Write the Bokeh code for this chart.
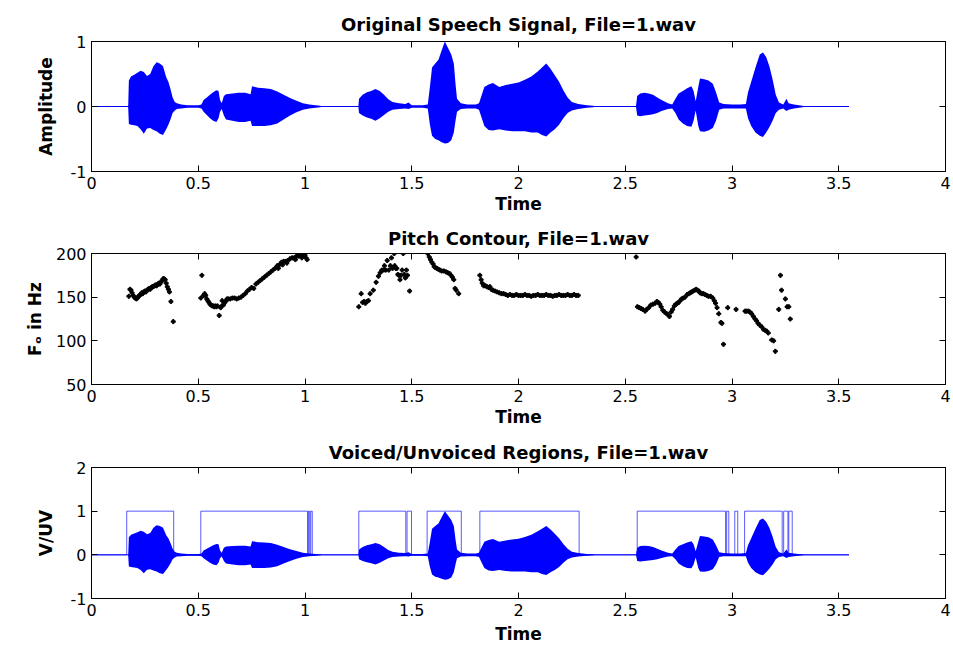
from bokeh.plotting import figure
from bokeh.layouts import column
from bokeh.models import Range1d, FixedTicker, LinearAxis, CustomLabelingPolicy
from bokeh.embed import file_html
from bokeh.resources import INLINE

FONT = "DejaVu Sans"
BLUE = "#0000ff"

# ---- speech waveform: amplitude envelope (time in s, upper / lower peak) ----
env_t = [0.0, 0.17, 0.172, 0.175, 0.185, 0.20, 0.215, 0.23, 0.245, 0.26, 0.275, 0.29, 0.305,
         0.32, 0.335, 0.35, 0.36, 0.37, 0.38, 0.39, 0.40, 0.42, 0.45, 0.50, 0.515,
         0.525, 0.54, 0.555, 0.57, 0.585, 0.595, 0.602, 0.61, 0.62, 0.63, 0.66, 0.69, 0.72,
         0.745, 0.752, 0.78, 0.81, 0.84, 0.87, 0.90, 0.93, 0.96, 0.99, 1.02, 1.05, 1.072,
         1.08, 1.25,
         1.253, 1.27, 1.29, 1.31, 1.33, 1.35, 1.37, 1.39, 1.41, 1.44, 1.47, 1.485, 1.50,
         1.55, 1.575,
         1.585, 1.595, 1.61, 1.625, 1.64, 1.655, 1.67, 1.685, 1.697, 1.705, 1.712, 1.73,
         1.76, 1.80, 1.815,
         1.825, 1.84, 1.86, 1.88, 1.91, 1.94, 1.97, 2.00, 2.03, 2.06, 2.09, 2.11, 2.13,
         2.15, 2.17, 2.19, 2.21, 2.23, 2.25, 2.28, 2.32, 2.35, 2.36, 2.55,
         2.556, 2.57, 2.59, 2.61, 2.63, 2.65, 2.67, 2.70, 2.72,
         2.735, 2.75, 2.77, 2.79, 2.81, 2.82, 2.83,
         2.842, 2.85, 2.87, 2.89, 2.91, 2.925, 2.94, 2.96, 3.00, 3.04, 3.065,
         3.075, 3.09, 3.11, 3.13, 3.145, 3.16, 3.175, 3.19, 3.205, 3.22, 3.24, 3.255,
         3.265, 3.29, 3.33, 3.34, 3.548]
env_up = [0.0, 0.0, 0.02, 0.40, 0.46, 0.49, 0.52, 0.55, 0.53, 0.47, 0.50, 0.62, 0.68,
          0.66, 0.62, 0.45, 0.38, 0.27, 0.14, 0.07, 0.05, 0.03, 0.02, 0.02, 0.03,
          0.10, 0.14, 0.18, 0.22, 0.25, 0.24, 0.10, 0.05, 0.16, 0.19, 0.20, 0.21, 0.21,
          0.19, 0.31, 0.29, 0.28, 0.27, 0.23, 0.18, 0.13, 0.09, 0.05, 0.03, 0.02, 0.01,
          0.0, 0.0,
          0.12, 0.18, 0.22, 0.24, 0.27, 0.24, 0.18, 0.11, 0.07, 0.05, 0.04, 0.06, 0.02,
          0.02, 0.03,
          0.30, 0.60, 0.66, 0.72, 0.86, 1.00, 0.90, 0.80, 0.66, 0.35, 0.12, 0.05,
          0.03, 0.03, 0.05,
          0.15, 0.30, 0.34, 0.36, 0.30, 0.33, 0.35, 0.37, 0.41, 0.46, 0.54, 0.60, 0.66,
          0.58, 0.48, 0.38, 0.25, 0.14, 0.07, 0.04, 0.02, 0.01, 0.0, 0.0,
          0.16, 0.20, 0.21, 0.20, 0.18, 0.14, 0.10, 0.05, 0.03,
          0.12, 0.20, 0.24, 0.28, 0.31, 0.24, 0.08,
          0.30, 0.43, 0.42, 0.40, 0.35, 0.22, 0.06, 0.04, 0.03, 0.03, 0.04,
          0.22, 0.38, 0.60, 0.80, 0.83, 0.76, 0.62, 0.42, 0.18, 0.06, 0.03, 0.12,
          0.05, 0.03, 0.01, 0.0, 0.0]
env_lo = [0.0, 0.0, -0.02, -0.27, -0.28, -0.29, -0.30, -0.35, -0.42, -0.34, -0.33, -0.36, -0.38,
          -0.42, -0.44, -0.35, -0.28, -0.20, -0.10, -0.06, -0.04, -0.03, -0.02, -0.02, -0.03,
          -0.08, -0.13, -0.18, -0.22, -0.24, -0.18, -0.08, -0.04, -0.14, -0.20, -0.22, -0.24, -0.24,
          -0.22, -0.30, -0.30, -0.30, -0.29, -0.26, -0.20, -0.14, -0.09, -0.05, -0.03, -0.02, -0.01,
          0.0, 0.0,
          -0.10, -0.14, -0.17, -0.19, -0.22, -0.18, -0.13, -0.08, -0.05, -0.04, -0.03, -0.04, -0.02,
          -0.02, -0.03,
          -0.28, -0.45, -0.50, -0.52, -0.55, -0.57, -0.56, -0.52, -0.40, -0.22, -0.08, -0.04,
          -0.03, -0.03, -0.05,
          -0.15, -0.30, -0.36, -0.37, -0.35, -0.37, -0.38, -0.38, -0.38, -0.40, -0.40, -0.44, -0.46,
          -0.40, -0.35, -0.28, -0.18, -0.10, -0.06, -0.04, -0.02, -0.01, 0.0, 0.0,
          -0.14, -0.15, -0.14, -0.13, -0.12, -0.10, -0.07, -0.04, -0.03,
          -0.10, -0.20, -0.26, -0.30, -0.31, -0.22, -0.06,
          -0.30, -0.38, -0.39, -0.37, -0.33, -0.22, -0.05, -0.03, -0.03, -0.03, -0.03,
          -0.18, -0.30, -0.40, -0.45, -0.47, -0.40, -0.32, -0.22, -0.10, -0.05, -0.03, -0.07,
          -0.05, -0.03, -0.01, 0.0, 0.0]

# ---- pitch contour estimates (time in s, F0 in Hz) ----
pitch_t = [0.175, 0.180, 0.185, 0.190, 0.195, 0.200, 0.205, 0.210, 0.215, 0.220, 0.225, 0.230,
           0.235, 0.240, 0.245, 0.250, 0.255, 0.260, 0.265, 0.270, 0.275, 0.280, 0.285, 0.290,
           0.295, 0.300, 0.305, 0.310, 0.315, 0.320, 0.325, 0.330, 0.335, 0.340, 0.345, 0.350,
           0.355, 0.360, 0.365, 0.372, 0.383,
           0.512, 0.517, 0.525, 0.530, 0.535, 0.540, 0.545, 0.550, 0.555, 0.560, 0.565, 0.570,
           0.575, 0.580, 0.585, 0.590, 0.598, 0.605, 0.610, 0.612, 0.618, 0.625, 0.630, 0.635,
           0.640, 0.650, 0.660, 0.670, 0.680, 0.690, 0.700, 0.710, 0.720, 0.730, 0.740, 0.750,
           0.760, 0.770, 0.780, 0.790, 0.800, 0.810, 0.820, 0.830, 0.840, 0.850, 0.860, 0.870,
           0.875, 0.880, 0.890, 0.895, 0.900, 0.910, 0.915, 0.920, 0.930, 0.940, 0.950, 0.955,
           0.960, 0.970, 0.980, 0.985, 0.990, 0.995, 1.000, 1.005, 1.010,
           1.252, 1.263, 1.270, 1.277, 1.283, 1.290, 1.297, 1.305, 1.320, 1.333, 1.344, 1.352,
           1.360, 1.368, 1.372, 1.378, 1.385, 1.392, 1.400, 1.405, 1.410, 1.418, 1.420, 1.425,
           1.430, 1.435, 1.440, 1.445, 1.450, 1.455, 1.460, 1.465, 1.470, 1.475, 1.480, 1.490,
           1.575, 1.582, 1.588, 1.594, 1.600, 1.605, 1.610, 1.617, 1.625, 1.632, 1.640, 1.650,
           1.660, 1.668, 1.677, 1.684, 1.690, 1.697, 1.703, 1.708, 1.720,
           1.819, 1.825, 1.830, 1.837, 1.845, 1.852, 1.860, 1.866, 1.873, 1.880, 1.890, 1.900,
           1.910, 1.920, 1.930, 1.940, 1.950, 1.960, 1.970, 1.980, 1.990, 2.000, 2.010, 2.020,
           2.030, 2.040, 2.050, 2.060, 2.070, 2.080, 2.090, 2.100, 2.110, 2.120, 2.130, 2.140,
           2.150, 2.160, 2.170, 2.180, 2.190, 2.200, 2.210, 2.220, 2.230, 2.240, 2.250, 2.260,
           2.270, 2.280,
           2.551, 2.557, 2.566, 2.574, 2.582, 2.593, 2.600, 2.610, 2.620, 2.630, 2.640, 2.648,
           2.655, 2.662, 2.668, 2.676, 2.684, 2.694, 2.700, 2.707, 2.715, 2.722, 2.730, 2.737,
           2.744, 2.750, 2.757, 2.764, 2.772, 2.780, 2.790, 2.798, 2.805, 2.811, 2.818, 2.825,
           2.832, 2.838, 2.845, 2.850, 2.858, 2.866, 2.874, 2.882, 2.890, 2.900, 2.910, 2.917,
           2.923, 2.930, 2.938, 2.948, 2.953, 2.960, 2.980, 3.019, 3.061, 3.068, 3.077, 3.084,
           3.092, 3.100, 3.108, 3.115, 3.122, 3.130, 3.139, 3.148, 3.156, 3.163, 3.170, 3.186,
           3.195, 3.203, 3.219, 3.227, 3.232, 3.250, 3.258, 3.266, 3.273]
pitch_f = [151, 159, 158, 155, 152, 150, 149, 148, 149, 151, 152, 153,
           155, 154, 156, 157, 156, 158, 159, 160, 159, 161, 162, 162,
           163, 164, 163, 165, 166, 165, 167, 169, 171, 171, 170, 166,
           162, 159, 156, 145, 122,
           149, 175, 152, 154, 152, 148, 146, 144, 142, 141, 140, 140,
           139, 140, 139, 140, 129, 138, 140, 146, 141, 144, 146, 148,
           148, 148, 149, 149, 148, 149, 150, 152, 154, 157, 159, 161,
           160, 165, 167, 169, 171, 173, 175, 177, 179, 181, 183, 186,
           183, 187, 190, 187, 191, 191, 189, 192, 194, 195, 195, 193,
           197, 197, 198, 195, 200, 197, 198, 195, 193,
           139, 154, 144, 145, 143, 145, 146, 154, 158, 167, 174, 178,
           181, 181, 186, 181, 192, 181, 186, 195, 183, 200, 186, 183,
           183, 176, 175, 170, 175, 181, 200, 176, 172, 181, 175, 157,
           200, 196, 193, 190, 188, 185, 184, 183, 182, 181, 180, 180,
           179, 178, 177, 175, 173, 170, 160, 158, 154,
           175, 170, 166, 163, 163, 162, 161, 162, 159, 158, 157, 156,
           155, 154, 154, 153, 152, 153, 152, 152, 153, 152, 152, 152,
           153, 152, 152, 151, 152, 152, 153, 152, 152, 152, 153, 152,
           152, 151, 152, 152, 153, 152, 152, 152, 153, 152, 152, 153,
           152, 152,
           196, 139, 138, 137, 136, 134, 136, 138, 141, 142, 143, 145,
           144, 142, 139, 135, 133, 131, 130, 128, 133, 136, 140, 142,
           143, 144, 146, 148, 149, 150, 153, 154, 155, 156, 157, 158,
           159, 158, 157, 155, 154, 154, 153, 152, 151, 151, 149, 146,
           143, 138, 131, 121, 120, 96, 138, 136, 134, 134, 134, 133,
           131, 128, 125, 123, 120, 118, 116, 113, 112, 111, 109, 101,
           100, 88, 136, 175, 158, 148, 139, 139, 125]

# ---- voiced regions (start, end) in s ----
voiced_start = [0.165, 0.512, 1.016, 1.027, 1.252, 1.478, 1.572, 1.819, 2.556, 2.975, 3.013, 3.059, 3.242, 3.266]
voiced_end = [0.385, 1.012, 1.022, 1.034, 1.472, 1.499, 1.732, 2.284, 2.970, 2.985, 3.027, 3.235, 3.262, 3.282]

# ---- ticks ----
x_ticks = [0, 0.5, 1, 1.5, 2, 2.5, 3, 3.5, 4]
x_tick_labels = ["0", "0.5", "1", "1.5", "2", "2.5", "3", "3.5", "4"]
amp_ticks = [-1, 0, 1]
amp_tick_labels = ["-1", "0", "1"]
f0_ticks = [50, 100, 150, 200]
f0_tick_labels = ["50", "100", "150", "200"]
vuv_ticks = [-1, 0, 1, 2]
vuv_tick_labels = ["-1", "0", "1", "2"]

# mirrored tick axes on the top / right edges carry no labels
NO_LABELS = "for (const i of Array.from(indices)) indices.unset(i)"


def style_axis(ax, ticks, labels, show_labels=True):
    ax.ticker = FixedTicker(ticks=ticks)
    ax.major_tick_in = 6
    ax.major_tick_out = 0
    ax.minor_tick_line_color = None
    ax.axis_line_color = "black"
    ax.major_tick_line_color = "black"
    ax.major_label_text_font = FONT
    ax.major_label_text_color = "black"
    ax.axis_label_text_font = FONT
    ax.axis_label_text_font_style = "bold"
    ax.axis_label_text_color = "black"
    if show_labels:
        ax.major_label_overrides = {t: l for t, l in zip(ticks, labels)}
        ax.major_label_text_font_size = "16px"
        ax.major_label_standoff = 5
    else:
        ax.major_label_policy = CustomLabelingPolicy(code=NO_LABELS)
        ax.major_label_text_font_size = "0px"
        ax.major_label_standoff = 0


def panel(title, ylabel, yr, yticks, ylabels, height, btop, bbottom, label_standoff,
          title_standoff, xlabel_standoff):
    p = figure(width=953, height=height, x_range=Range1d(0, 4), y_range=Range1d(*yr),
               output_backend="svg", toolbar_location=None, title=title,
               min_border_left=91, min_border_right=8, min_border_top=btop,
               min_border_bottom=bbottom)
    p.title.align = "center"
    p.title.text_font = FONT
    p.title.text_font_size = "18px"
    p.title.text_font_style = "bold"
    p.title.text_color = "black"
    p.title.standoff = title_standoff
    p.grid.visible = False
    p.outline_line_color = "black"
    p.outline_line_width = 1
    style_axis(p.xaxis[0], x_ticks, x_tick_labels)
    style_axis(p.yaxis[0], yticks, ylabels)
    p.xaxis.axis_label = "Time"
    p.xaxis.axis_label_text_font_size = "17px"
    p.xaxis.axis_label_standoff = xlabel_standoff
    p.yaxis.axis_label = ylabel
    p.yaxis.axis_label_text_font_size = "17px"
    p.yaxis.axis_label_standoff = label_standoff
    top = LinearAxis()
    style_axis(top, x_ticks, x_tick_labels, show_labels=False)
    p.add_layout(top, "above")
    right = LinearAxis()
    style_axis(right, yticks, ylabels, show_labels=False)
    p.add_layout(right, "right")
    return p


def draw_signal(p):
    p.line(x=[env_t[0], env_t[-1]], y=[0, 0], line_color=BLUE, line_width=1)
    p.varea(x=env_t, y1=env_lo, y2=env_up, fill_color=BLUE)


# Panel 1: waveform
p1 = panel("Original Speech Signal, File=1.wav", "Amplitude", (-1, 1),
           amp_ticks, amp_tick_labels, 216, 41, 45, 12, 14, 2)
draw_signal(p1)

# Panel 2: pitch contour
p2 = panel("Pitch Contour, File=1.wav", "F\u2092 in Hz", (50, 200),
           f0_ticks, f0_tick_labels, 213, 37, 45, 8, 10, 2)
p2.scatter(x=pitch_t, y=pitch_f, marker="plus", size=4, color="black")

# Panel 3: voiced / unvoiced decision over the waveform
p3 = panel("Voiced/Unvoiced Regions, File=1.wav", "V/UV", (-1, 2),
           vuv_ticks, vuv_tick_labels, 219, 38, 50, 12, 10, 5)
draw_signal(p3)
vx, vy = [env_t[0]], [0]
for s, e in zip(voiced_start, voiced_end):
    vx += [s, s, e, e]
    vy += [0, 1, 1, 0]
vx.append(env_t[-1])
vy.append(0)
p3.line(x=vx, y=vy, line_color=BLUE, line_width=1, line_alpha=0.65)

layout = column(p1, p2, p3, spacing=0)
open("out.html", "w").write(file_html(layout, INLINE))
